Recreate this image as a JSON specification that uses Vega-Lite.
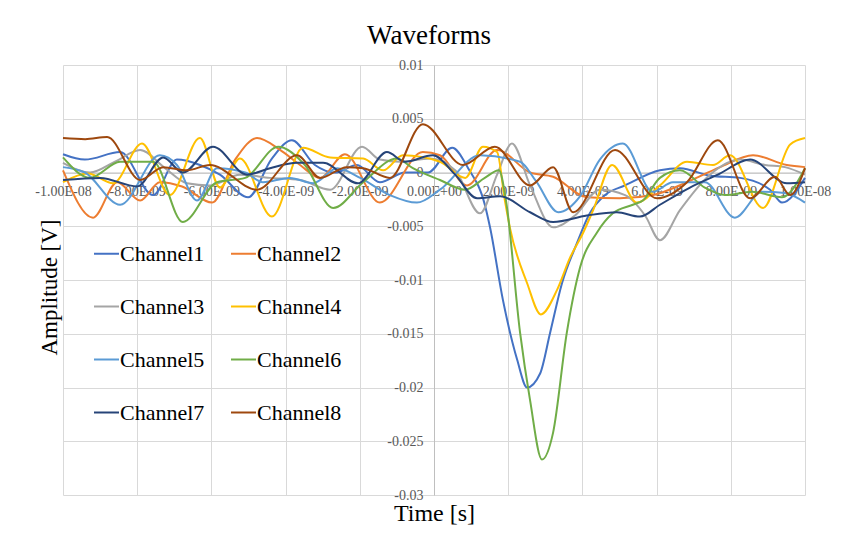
{
  "$schema": "https://vega.github.io/schema/vega-lite/v6.json",
  "width": 742,
  "height": 430,
  "autosize": {"type": "none"},
  "padding": {"left": 63, "top": 65, "right": 41, "bottom": 65},
  "background": "white",
  "title": {"text": "Waveforms", "font": "Liberation Serif", "fontSize": 27, "fontWeight": "normal", "color": "#000000", "anchor": "middle", "frame": "group", "baseline": "alphabetic", "offset": -13, "dx": -5},
  "data": {"values": [
    {"channel":"Channel1","time":-1.0e-8,"amplitude":0.0017},{"channel":"Channel1","time":-9.41e-9,"amplitude":0.0012},{"channel":"Channel1","time":-8.46e-9,"amplitude":0.0019},{"channel":"Channel1","time":-7.57e-9,"amplitude":-0.0021},{"channel":"Channel1","time":-6.93e-9,"amplitude":0.0012},{"channel":"Channel1","time":-6.31e-9,"amplitude":0.0007},{"channel":"Channel1","time":-5.77e-9,"amplitude":-0.0002},{"channel":"Channel1","time":-5.01e-9,"amplitude":-0.0023},{"channel":"Channel1","time":-4.37e-9,"amplitude":0.0013},{"channel":"Channel1","time":-3.83e-9,"amplitude":0.003},{"channel":"Channel1","time":-3.21e-9,"amplitude":0.0007},{"channel":"Channel1","time":-2.67e-9,"amplitude":0.0},{"channel":"Channel1","time":-2.08e-9,"amplitude":0.0007},{"channel":"Channel1","time":-1.46e-9,"amplitude":-0.0009},{"channel":"Channel1","time":-7.8e-10,"amplitude":0.0},{"channel":"Channel1","time":-1.6e-10,"amplitude":0.0},{"channel":"Channel1","time":4.9e-10,"amplitude":0.0023},{"channel":"Channel1","time":9.2e-10,"amplitude":0.0004},{"channel":"Channel1","time":1.37e-9,"amplitude":-0.003},{"channel":"Channel1","time":1.51e-9,"amplitude":-0.0051},{"channel":"Channel1","time":1.86e-9,"amplitude":-0.0119},{"channel":"Channel1","time":2.24e-9,"amplitude":-0.0174},{"channel":"Channel1","time":2.51e-9,"amplitude":-0.02},{"channel":"Channel1","time":2.86e-9,"amplitude":-0.0187},{"channel":"Channel1","time":3.13e-9,"amplitude":-0.0149},{"channel":"Channel1","time":3.45e-9,"amplitude":-0.0103},{"channel":"Channel1","time":3.85e-9,"amplitude":-0.0066},{"channel":"Channel1","time":4.2e-9,"amplitude":-0.0038},{"channel":"Channel1","time":4.61e-9,"amplitude":-0.0021},{"channel":"Channel1","time":5.15e-9,"amplitude":-0.0012},{"channel":"Channel1","time":6.09e-9,"amplitude":0.0002},{"channel":"Channel1","time":6.63e-9,"amplitude":0.0004},{"channel":"Channel1","time":7.44e-9,"amplitude":-0.0003},{"channel":"Channel1","time":8.25e-9,"amplitude":-0.0005},{"channel":"Channel1","time":9.06e-9,"amplitude":-0.0016},{"channel":"Channel1","time":9.38e-9,"amplitude":-0.0028},{"channel":"Channel1","time":1.0e-8,"amplitude":-0.0005},

    {"channel":"Channel2","time":-1.0e-8,"amplitude":0.0002},{"channel":"Channel2","time":-9.19e-9,"amplitude":-0.0042},{"channel":"Channel2","time":-8.54e-9,"amplitude":-0.0009},{"channel":"Channel2","time":-7.92e-9,"amplitude":-0.0026},{"channel":"Channel2","time":-7.39e-9,"amplitude":-0.0009},{"channel":"Channel2","time":-6.79e-9,"amplitude":-0.0013},{"channel":"Channel2","time":-5.98e-9,"amplitude":-0.0028},{"channel":"Channel2","time":-5.36e-9,"amplitude":0.0012},{"channel":"Channel2","time":-4.77e-9,"amplitude":0.0032},{"channel":"Channel2","time":-4.15e-9,"amplitude":0.0021},{"channel":"Channel2","time":-3.61e-9,"amplitude":0.0007},{"channel":"Channel2","time":-3.07e-9,"amplitude":-0.0005},{"channel":"Channel2","time":-2.4e-9,"amplitude":0.0017},{"channel":"Channel2","time":-1.46e-9,"amplitude":-0.0028},{"channel":"Channel2","time":-3.0e-10,"amplitude":0.0019},{"channel":"Channel2","time":1.6e-10,"amplitude":0.0016},{"channel":"Channel2","time":8.9e-10,"amplitude":-0.0012},{"channel":"Channel2","time":1.7e-9,"amplitude":0.0021},{"channel":"Channel2","time":2.59e-9,"amplitude":0.0},{"channel":"Channel2","time":3.21e-9,"amplitude":-0.0004},{"channel":"Channel2","time":4.12e-9,"amplitude":-0.0023},{"channel":"Channel2","time":5.01e-9,"amplitude":-0.0024},{"channel":"Channel2","time":5.9e-9,"amplitude":-0.0021},{"channel":"Channel2","time":6.82e-9,"amplitude":-0.0009},{"channel":"Channel2","time":7.71e-9,"amplitude":0.0005},{"channel":"Channel2","time":8.6e-9,"amplitude":0.0016},{"channel":"Channel2","time":9.51e-9,"amplitude":0.0007},{"channel":"Channel2","time":1.0e-8,"amplitude":0.0005},

    {"channel":"Channel3","time":-1.0e-8,"amplitude":0.0009},{"channel":"Channel3","time":-9.27e-9,"amplitude":0.0},{"channel":"Channel3","time":-8.6e-9,"amplitude":0.001},{"channel":"Channel3","time":-7.92e-9,"amplitude":0.0021},{"channel":"Channel3","time":-7.25e-9,"amplitude":0.0004},{"channel":"Channel3","time":-6.66e-9,"amplitude":-0.001},{"channel":"Channel3","time":-6.04e-9,"amplitude":-0.0012},{"channel":"Channel3","time":-5.23e-9,"amplitude":-0.0002},{"channel":"Channel3","time":-4.42e-9,"amplitude":-0.0005},{"channel":"Channel3","time":-3.61e-9,"amplitude":-0.0007},{"channel":"Channel3","time":-2.8e-9,"amplitude":-0.0016},{"channel":"Channel3","time":-1.94e-9,"amplitude":0.0024},{"channel":"Channel3","time":-1.46e-9,"amplitude":0.0012},{"channel":"Channel3","time":-9.2e-10,"amplitude":0.001},{"channel":"Channel3","time":-1.1e-10,"amplitude":0.0013},{"channel":"Channel3","time":5.7e-10,"amplitude":0.0002},{"channel":"Channel3","time":1.24e-9,"amplitude":-0.0038},{"channel":"Channel3","time":1.7e-9,"amplitude":-0.0002},{"channel":"Channel3","time":2.1e-9,"amplitude":0.0027},{"channel":"Channel3","time":2.59e-9,"amplitude":-0.0012},{"channel":"Channel3","time":3.21e-9,"amplitude":-0.0051},{"channel":"Channel3","time":3.8e-9,"amplitude":-0.004},{"channel":"Channel3","time":4.47e-9,"amplitude":-0.0016},{"channel":"Channel3","time":5.15e-9,"amplitude":-0.0021},{"channel":"Channel3","time":5.69e-9,"amplitude":-0.004},{"channel":"Channel3","time":6.09e-9,"amplitude":-0.0063},{"channel":"Channel3","time":6.63e-9,"amplitude":-0.0035},{"channel":"Channel3","time":7.44e-9,"amplitude":-0.0002},{"channel":"Channel3","time":8.25e-9,"amplitude":0.0012},{"channel":"Channel3","time":8.92e-9,"amplitude":0.0007},{"channel":"Channel3","time":9.46e-9,"amplitude":0.0005},{"channel":"Channel3","time":1.0e-8,"amplitude":-0.0002},

    {"channel":"Channel4","time":-1.0e-8,"amplitude":-0.0009},{"channel":"Channel4","time":-9.33e-9,"amplitude":-0.0001},{"channel":"Channel4","time":-8.65e-9,"amplitude":-0.001},{"channel":"Channel4","time":-7.87e-9,"amplitude":0.0027},{"channel":"Channel4","time":-7.12e-9,"amplitude":-0.0021},{"channel":"Channel4","time":-6.31e-9,"amplitude":0.0032},{"channel":"Channel4","time":-5.77e-9,"amplitude":-0.0014},{"channel":"Channel4","time":-5.23e-9,"amplitude":0.0013},{"channel":"Channel4","time":-4.37e-9,"amplitude":-0.0041},{"channel":"Channel4","time":-3.53e-9,"amplitude":0.0023},{"channel":"Channel4","time":-2.8e-9,"amplitude":0.0014},{"channel":"Channel4","time":-1.91e-9,"amplitude":0.0013},{"channel":"Channel4","time":-1.37e-9,"amplitude":0.0002},{"channel":"Channel4","time":-8.4e-10,"amplitude":0.0016},{"channel":"Channel4","time":1.6e-10,"amplitude":0.001},{"channel":"Channel4","time":8.4e-10,"amplitude":-0.0005},{"channel":"Channel4","time":1.32e-9,"amplitude":0.0024},{"channel":"Channel4","time":1.7e-9,"amplitude":0.0019},{"channel":"Channel4","time":1.91e-9,"amplitude":-0.0026},{"channel":"Channel4","time":2.05e-9,"amplitude":-0.0052},{"channel":"Channel4","time":2.51e-9,"amplitude":-0.0103},{"channel":"Channel4","time":2.88e-9,"amplitude":-0.0132},{"channel":"Channel4","time":3.32e-9,"amplitude":-0.0109},{"channel":"Channel4","time":3.67e-9,"amplitude":-0.0079},{"channel":"Channel4","time":4.02e-9,"amplitude":-0.0056},{"channel":"Channel4","time":4.29e-9,"amplitude":-0.0035},{"channel":"Channel4","time":4.8e-9,"amplitude":0.0007},{"channel":"Channel4","time":5.47e-9,"amplitude":-0.0028},{"channel":"Channel4","time":6.09e-9,"amplitude":-0.0012},{"channel":"Channel4","time":6.82e-9,"amplitude":0.001},{"channel":"Channel4","time":7.52e-9,"amplitude":0.0007},{"channel":"Channel4","time":7.98e-9,"amplitude":0.0016},{"channel":"Channel4","time":8.87e-9,"amplitude":-0.0033},{"channel":"Channel4","time":9.6e-9,"amplitude":0.0026},{"channel":"Channel4","time":1.0e-8,"amplitude":0.0032},

    {"channel":"Channel5","time":-1.0e-8,"amplitude":0.0005},{"channel":"Channel5","time":-9.41e-9,"amplitude":0.0},{"channel":"Channel5","time":-8.46e-9,"amplitude":-0.003},{"channel":"Channel5","time":-7.39e-9,"amplitude":0.0016},{"channel":"Channel5","time":-6.93e-9,"amplitude":0.0007},{"channel":"Channel5","time":-6.39e-9,"amplitude":-0.0026},{"channel":"Channel5","time":-5.85e-9,"amplitude":0.0004},{"channel":"Channel5","time":-5.09e-9,"amplitude":0.0},{"channel":"Channel5","time":-4.61e-9,"amplitude":-0.0009},{"channel":"Channel5","time":-3.88e-9,"amplitude":-0.0005},{"channel":"Channel5","time":-3.26e-9,"amplitude":-0.001},{"channel":"Channel5","time":-2.61e-9,"amplitude":0.0004},{"channel":"Channel5","time":-1.99e-9,"amplitude":-0.0005},{"channel":"Channel5","time":-1.19e-9,"amplitude":-0.0021},{"channel":"Channel5","time":-4.6e-10,"amplitude":-0.0028},{"channel":"Channel5","time":1.6e-10,"amplitude":-0.0016},{"channel":"Channel5","time":1.24e-9,"amplitude":0.0016},{"channel":"Channel5","time":2.32e-9,"amplitude":0.001},{"channel":"Channel5","time":2.75e-9,"amplitude":-0.0008},{"channel":"Channel5","time":3.35e-9,"amplitude":-0.0037},{"channel":"Channel5","time":3.94e-9,"amplitude":-0.0022},{"channel":"Channel5","time":4.47e-9,"amplitude":0.0012},{"channel":"Channel5","time":5.09e-9,"amplitude":0.0027},{"channel":"Channel5","time":5.9e-9,"amplitude":-0.0018},{"channel":"Channel5","time":6.44e-9,"amplitude":-0.0009},{"channel":"Channel5","time":7.3e-9,"amplitude":-0.0009},{"channel":"Channel5","time":8.11e-9,"amplitude":-0.0042},{"channel":"Channel5","time":8.84e-9,"amplitude":-0.0018},{"channel":"Channel5","time":9.46e-9,"amplitude":-0.0019},{"channel":"Channel5","time":1.0e-8,"amplitude":-0.0028},

    {"channel":"Channel6","time":-1.0e-8,"amplitude":0.0014},{"channel":"Channel6","time":-9.27e-9,"amplitude":-0.0005},{"channel":"Channel6","time":-8.46e-9,"amplitude":0.001},{"channel":"Channel6","time":-7.57e-9,"amplitude":0.001},{"channel":"Channel6","time":-6.77e-9,"amplitude":-0.0046},{"channel":"Channel6","time":-5.85e-9,"amplitude":-0.0009},{"channel":"Channel6","time":-5.09e-9,"amplitude":-0.0005},{"channel":"Channel6","time":-4.2e-9,"amplitude":0.0024},{"channel":"Channel6","time":-3.48e-9,"amplitude":0.0007},{"channel":"Channel6","time":-2.72e-9,"amplitude":-0.0033},{"channel":"Channel6","time":-1.91e-9,"amplitude":-0.0009},{"channel":"Channel6","time":-1.0e-9,"amplitude":0.0013},{"channel":"Channel6","time":-5.7e-10,"amplitude":0.0004},{"channel":"Channel6","time":1.6e-10,"amplitude":-0.0007},{"channel":"Channel6","time":8.4e-10,"amplitude":-0.0016},{"channel":"Channel6","time":1.37e-9,"amplitude":-0.0005},{"channel":"Channel6","time":1.75e-9,"amplitude":0.0002},{"channel":"Channel6","time":1.94e-9,"amplitude":-0.0026},{"channel":"Channel6","time":2.32e-9,"amplitude":-0.0149},{"channel":"Channel6","time":2.59e-9,"amplitude":-0.0212},{"channel":"Channel6","time":2.91e-9,"amplitude":-0.0267},{"channel":"Channel6","time":3.21e-9,"amplitude":-0.0242},{"channel":"Channel6","time":3.58e-9,"amplitude":-0.0149},{"channel":"Channel6","time":3.94e-9,"amplitude":-0.0088},{"channel":"Channel6","time":4.39e-9,"amplitude":-0.0056},{"channel":"Channel6","time":4.82e-9,"amplitude":-0.0038},{"channel":"Channel6","time":5.36e-9,"amplitude":-0.003},{"channel":"Channel6","time":5.63e-9,"amplitude":-0.0026},{"channel":"Channel6","time":6.09e-9,"amplitude":-0.0005},{"channel":"Channel6","time":6.63e-9,"amplitude":0.0002},{"channel":"Channel6","time":7.3e-9,"amplitude":-0.0014},{"channel":"Channel6","time":7.84e-9,"amplitude":-0.0021},{"channel":"Channel6","time":8.57e-9,"amplitude":-0.0018},{"channel":"Channel6","time":9.38e-9,"amplitude":-0.0023},{"channel":"Channel6","time":1.0e-8,"amplitude":0.0004},

    {"channel":"Channel7","time":-1.0e-8,"amplitude":-0.0007},{"channel":"Channel7","time":-9.0e-9,"amplitude":-0.0005},{"channel":"Channel7","time":-8.0e-9,"amplitude":-0.0013},{"channel":"Channel7","time":-7.3e-9,"amplitude":0.0014},{"channel":"Channel7","time":-6.77e-9,"amplitude":0.0},{"channel":"Channel7","time":-5.96e-9,"amplitude":0.0024},{"channel":"Channel7","time":-5.04e-9,"amplitude":-0.0002},{"channel":"Channel7","time":-4.42e-9,"amplitude":0.0004},{"channel":"Channel7","time":-3.69e-9,"amplitude":0.0009},{"channel":"Channel7","time":-2.99e-9,"amplitude":0.0009},{"channel":"Channel7","time":-2.05e-9,"amplitude":-0.001},{"channel":"Channel7","time":-1.27e-9,"amplitude":0.0019},{"channel":"Channel7","time":-7.8e-10,"amplitude":0.001},{"channel":"Channel7","time":-3.0e-11,"amplitude":0.0016},{"channel":"Channel7","time":5.7e-10,"amplitude":-0.0002},{"channel":"Channel7","time":1.16e-9,"amplitude":-0.0024},{"channel":"Channel7","time":1.78e-9,"amplitude":-0.0022},{"channel":"Channel7","time":2.59e-9,"amplitude":-0.0037},{"channel":"Channel7","time":3.21e-9,"amplitude":-0.0046},{"channel":"Channel7","time":4.12e-9,"amplitude":-0.004},{"channel":"Channel7","time":4.93e-9,"amplitude":-0.0037},{"channel":"Channel7","time":5.55e-9,"amplitude":-0.0041},{"channel":"Channel7","time":6.09e-9,"amplitude":-0.003},{"channel":"Channel7","time":6.9e-9,"amplitude":-0.0014},{"channel":"Channel7","time":7.65e-9,"amplitude":-0.0002},{"channel":"Channel7","time":8.52e-9,"amplitude":0.0012},{"channel":"Channel7","time":9.51e-9,"amplitude":-0.001},{"channel":"Channel7","time":1.0e-8,"amplitude":-0.0009},

    {"channel":"Channel8","time":-1.0e-8,"amplitude":0.0032},{"channel":"Channel8","time":-9.4e-9,"amplitude":0.0031},{"channel":"Channel8","time":-8.81e-9,"amplitude":0.0033},{"channel":"Channel8","time":-7.92e-9,"amplitude":-0.0007},{"channel":"Channel8","time":-7.3e-9,"amplitude":0.0005},{"channel":"Channel8","time":-6.66e-9,"amplitude":0.0002},{"channel":"Channel8","time":-6.04e-9,"amplitude":0.0007},{"channel":"Channel8","time":-4.77e-9,"amplitude":-0.0016},{"channel":"Channel8","time":-3.69e-9,"amplitude":0.0016},{"channel":"Channel8","time":-3.07e-9,"amplitude":-0.0005},{"channel":"Channel8","time":-2.35e-9,"amplitude":0.0005},{"channel":"Channel8","time":-1.91e-9,"amplitude":0.0004},{"channel":"Channel8","time":-1.19e-9,"amplitude":-0.0005},{"channel":"Channel8","time":-3.0e-10,"amplitude":0.0045},{"channel":"Channel8","time":7.8e-10,"amplitude":0.0007},{"channel":"Channel8","time":1.64e-9,"amplitude":0.0024},{"channel":"Channel8","time":2.59e-9,"amplitude":-0.0012},{"channel":"Channel8","time":3.21e-9,"amplitude":0.0005},{"channel":"Channel8","time":3.75e-9,"amplitude":-0.0037},{"channel":"Channel8","time":4.88e-9,"amplitude":0.0021},{"channel":"Channel8","time":6.01e-9,"amplitude":-0.0024},{"channel":"Channel8","time":6.82e-9,"amplitude":-0.0009},{"channel":"Channel8","time":7.65e-9,"amplitude":0.003},{"channel":"Channel8","time":8.52e-9,"amplitude":-0.0024},{"channel":"Channel8","time":9.19e-9,"amplitude":-0.0004},{"channel":"Channel8","time":9.6e-9,"amplitude":-0.0021},{"channel":"Channel8","time":1.0e-8,"amplitude":0.0004}
  ]},
  "mark": {"type": "line", "interpolate": "monotone", "strokeWidth": 2},
  "encoding": {
    "x": {
      "field": "time", "type": "quantitative",
      "scale": {"domain": [-1e-8, 1e-8], "nice": false, "zero": false},
      "axis": {
        "values": [-1e-8, -8e-9, -6e-9, -4e-9, -2e-9, 0, 2e-9, 4e-9, 6e-9, 8e-9, 1e-8],
        "offset": -322.5,
        "labelExpr": "(datum.value < 0 ? '-' : '') + (abs(datum.value) > 9.9e-9 ? '1.00E-08' : (datum.value == 0 ? '0.00E+00' : format(abs(datum.value) * 1e9, '.2f') + 'E-09'))",
        "labelFlush": false, "labelOverlap": false,
        "labelPadding": 12,
        "title": "Time [s]", "titleFontSize": 24,
        "titleX": 371, "titleY": 347.5, "titleBaseline": "alphabetic", "titleAlign": "center", "titlePadding": 0
      }
    },
    "y": {
      "field": "amplitude", "type": "quantitative",
      "scale": {"domain": [-0.03, 0.01], "nice": false, "zero": false},
      "axis": {
        "values": [-0.03, -0.025, -0.02, -0.015, -0.01, -0.005, 0, 0.005, 0.01],
        "offset": -371,
        "labelExpr": "(datum.value < 0 ? '-' : '') + format(abs(datum.value), '~g')",
        "labelFlush": false, "labelOverlap": false,
        "labelPadding": 11,
        "title": "Amplitude [V]", "titleFontSize": 23,
        "titleX": -378, "titleY": 222, "titleBaseline": "alphabetic", "titleAlign": "center", "titleAngle": -90
      }
    },
    "color": {
      "field": "channel", "type": "nominal",
      "scale": {
        "domain": ["Channel1", "Channel2", "Channel3", "Channel4", "Channel5", "Channel6", "Channel7", "Channel8"],
        "range": ["#4472C4", "#ED7D31", "#A5A5A5", "#FFC000", "#5B9BD5", "#70AD47", "#264478", "#9E480E"]
      },
      "legend": {
        "orient": "none", "legendX": 30, "legendY": 175, "columns": 2, "direction": "horizontal", "title": null,
        "symbolType": "stroke", "symbolSize": 625, "symbolStrokeWidth": 2,
        "labelFont": "Liberation Serif", "labelFontSize": 22, "labelColor": "#000000", "labelOffset": 0,
        "rowPadding": 28, "columnPadding": 22, "padding": 0, "labelLimit": 200
      }
    }
  },
  "config": {
    "view": {"stroke": null},
    "axis": {
      "labelFont": "Liberation Serif", "labelFontSize": 14, "labelColor": "#595959",
      "titleFont": "Liberation Serif", "titleFontWeight": "normal", "titleColor": "#000000",
      "gridColor": "#D9D9D9", "gridWidth": 1,
      "domainColor": "#BFBFBF", "domainWidth": 1,
      "ticks": false, "tickSize": 0
    }
  }
}
